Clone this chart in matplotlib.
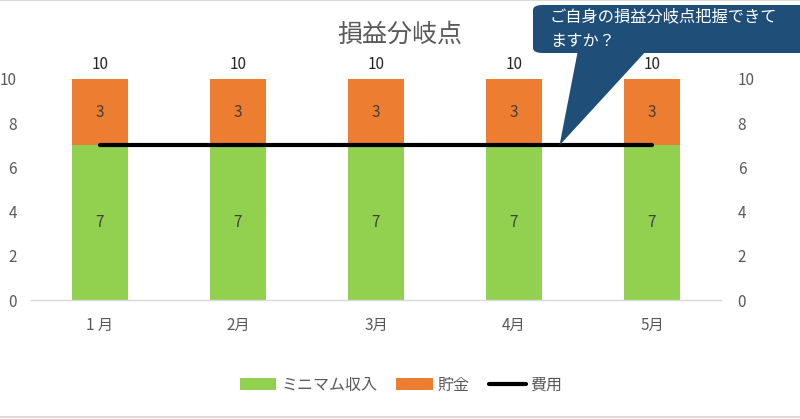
import matplotlib
matplotlib.use("Agg")
import matplotlib.pyplot as plt
from matplotlib.patches import FancyBboxPatch, Polygon
from matplotlib.lines import Line2D

plt.rcParams['font.family'] = ['Noto Sans CJK JP', 'DejaVu Sans']

months = ["1 月", "2月", "3月", "4月", "5月"]
minimum_income = [7, 7, 7, 7, 7]
savings = [3, 3, 3, 3, 3]
expenses = [7, 7, 7, 7, 7]
yticks = [0, 2, 4, 6, 8, 10]
title = "損益分岐点"
callout_text = "ご自身の損益分岐点把握できて\nますか？"

GREEN = "#92D050"
ORANGE = "#ED7D31"
GRAY = "#595959"
NAVY = "#1F4E79"

fig = plt.figure(figsize=(8, 4.19), dpi=100)
ax = fig.add_axes([31/800, 1 - 300/419, (721 - 31)/800, (300 - 79)/419])

x = list(range(len(months)))
b1 = ax.bar(x, minimum_income, width=0.4, color=GREEN, label="ミニマム収入", zorder=2)
b2 = ax.bar(x, savings, width=0.4, bottom=minimum_income, color=ORANGE, label="貯金", zorder=2)
ln, = ax.plot(x, expenses, color="black", lw=3, label="費用", zorder=3, solid_capstyle="round")

for i in x:
    ax.text(i, minimum_income[i] / 2, str(minimum_income[i]), ha="center", va="center",
            fontsize=11, color="#404040", zorder=4)
    ax.text(i, minimum_income[i] + savings[i] / 2, str(savings[i]), ha="center", va="center",
            fontsize=11, color="#404040", zorder=4)
    tot = minimum_income[i] + savings[i]
    ax.text(i, tot + 0.25, str(tot), ha="center", va="bottom", fontsize=11,
            color="#262626", clip_on=False)

ax.set_xlim(-0.5, 4.5)
ax.set_ylim(0, 10)
ax.set_xticks(x)
ax.set_xticklabels(months, fontsize=11, color=GRAY)
ax.set_yticks(yticks)
ax.set_yticklabels([str(v) for v in yticks], fontsize=11, color=GRAY)
ax.tick_params(axis="both", length=0)
ax.tick_params(axis="x", pad=12)
ax.tick_params(axis="y", pad=10)
for s in ["top", "left", "right"]:
    ax.spines[s].set_visible(False)
ax.spines["bottom"].set_color("#D9D9D9")
ax.spines["bottom"].set_linewidth(1)

ax2 = ax.twinx()
ax2.set_ylim(0, 10)
ax2.set_yticks(yticks)
ax2.set_yticklabels([str(v) for v in yticks], fontsize=11, color=GRAY)
ax2.tick_params(axis="y", length=0, pad=12)
for s in ax2.spines.values():
    s.set_visible(False)

fig.text(400/800, 1 - 35/419, title, ha="center", va="center", fontsize=18, color=GRAY)

# legend
fig.legend(handles=[b1, b2, ln], labels=["ミニマム収入", "貯金", "費用"], loc="center",
           bbox_to_anchor=(401/800, 1 - 385/419), ncol=3, frameon=False, fontsize=11.5,
           handlelength=2.3, handletextpad=0.3, columnspacing=1.2, labelcolor=GRAY)

# callout
W, H = 800, 419
def fp(px, py):
    return (px / W, 1 - py / H)

box = FancyBboxPatch(fp(533, 53), (815 - 533) / W, (53 - 5) / H,
                     boxstyle="round,pad=0,rounding_size=0.012",
                     transform=fig.transFigure, facecolor=NAVY, edgecolor="none",
                     clip_on=False, zorder=5)
fig.patches.append(box)
tip = ax.transData.transform((3.33, 7))
tip_fig = fig.transFigure.inverted().transform(tip)
tail = Polygon([fp(578, 50), fp(647, 50), tuple(tip_fig)], closed=True,
               transform=fig.transFigure, facecolor=NAVY, edgecolor="none", zorder=5)
fig.patches.append(tail)
fig.text(550/800, 1 - 29.5/419, callout_text, ha="left", va="center", fontsize=11.7,
         color="white", linespacing=1.6, zorder=6)

# outer border lines
fig.add_artist(Line2D([0, 1], [1 - 0.5/H, 1 - 0.5/H], transform=fig.transFigure, color="#D9D9D9", lw=1.5))
fig.add_artist(Line2D([0, 1], [1 - 416.5/H, 1 - 416.5/H], transform=fig.transFigure, color="#D9D9D9", lw=1.5))

fig.savefig("out.png", dpi=100, facecolor="white")
